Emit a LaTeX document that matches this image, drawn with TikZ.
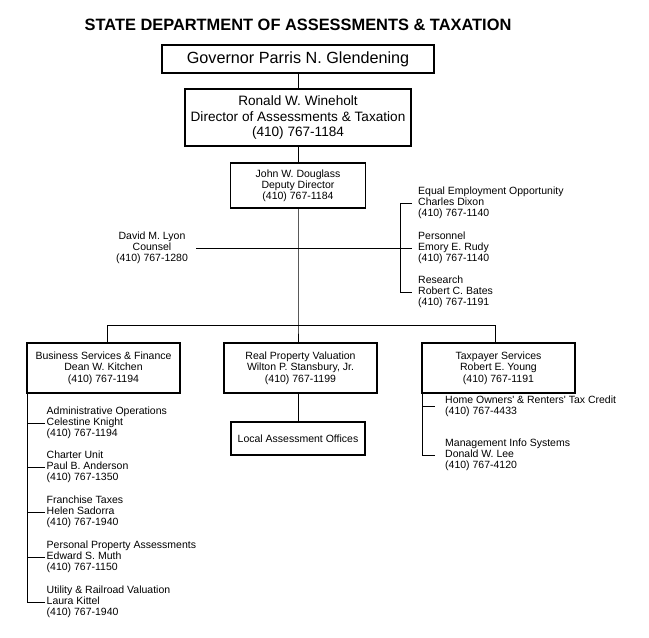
\documentclass[tikz,border=0pt]{standalone}
\usepackage{fontspec}
\setmainfont{Liberation Sans}
\begin{document}
\begin{tikzpicture}[x=1pt,y=-1pt,
    box/.style={draw,line width=1.6pt,inner sep=0pt,outer sep=0pt,align=center,
        font=\fontsize{10.5}{11.5}\selectfont},
    leaf/.style={anchor=west,align=left,inner ysep=0pt,inner xsep=#1,
        font=\fontsize{10.5}{11}\selectfont},
    leaf/.default=1.5pt,
    wire/.style={line width=0.9pt}]
    \useasboundingbox (0,0) rectangle (649,638);
    %\draw[gray!30] (0,0) grid[step=50] (649,638);
    \node[font=\bfseries\fontsize{16.4}{18}\selectfont] (title) at (298,25)
        {STATE DEPARTMENT OF ASSESSMENTS \& TAXATION};
    \node[box,minimum width=272pt,minimum height=28pt,font=\fontsize{16.2}{18}\selectfont]
        (gov) at (298,59) {Governor Parris N. Glendening};
    \node[box,minimum width=226pt,minimum height=57pt,font=\fontsize{13.6}{15.5}\selectfont]
        (dir) at (298,117.5) {Ronald W. Wineholt\\Director of Assessments \& Taxation\\(410) 767-1184};
    \node[box,minimum width=135pt,minimum height=45pt,font=\fontsize{10.5}{11}\selectfont]
        (dep) at (298,185.5) {John W. Douglass\\Deputy Director\\(410) 767-1184};
    \node[align=center,inner xsep=8pt,font=\fontsize{10.5}{11}\selectfont]
        (counsel) at (152,248) {David M. Lyon\\Counsel\\(410) 767-1280};
    \node[leaf=6pt] (eeo) at (412,203) {Equal Employment Opportunity\\Charles Dixon\\(410) 767-1140};
    \node[leaf=6pt] (pers) at (412,248) {Personnel\\Emory E. Rudy\\(410) 767-1140};
    \node[leaf=6pt] (res) at (412,292) {Research\\Robert C. Bates\\(410) 767-1191};
    \foreach \n/\x/\t in {bsf/103.5/{Business Services \& Finance\\Dean W. Kitchen\\(410) 767-1194},
        rpv/300.5/{Real Property Valuation\\Wilton P. Stansbury, Jr.\\(410) 767-1199},
        tps/498.5/{Taxpayer Services\\Robert E. Young\\(410) 767-1191}}
    \node[box,minimum width=153pt,minimum height=50pt] (\n) at (\x,368) {\t};
    \node[box,minimum width=134pt,minimum height=33pt] (lao) at (298,438.5) {Local Assessment Offices};
    \foreach \n/\y/\t in {adm/423/{Administrative Operations\\Celestine Knight\\(410) 767-1194},
        chu/467/{Charter Unit\\Paul B. Anderson\\(410) 767-1350},
        frt/512/{Franchise Taxes\\Helen Sadorra\\(410) 767-1940},
        ppa/557/{Personal Property Assessments\\Edward S. Muth\\(410) 767-1150},
        urv/602/{Utility \& Railroad Valuation\\Laura Kittel\\(410) 767-1940}}
    \node[leaf] (\n) at (45,\y) {\t};
    \node[leaf=10pt] (hor) at (435,406.5) {Home Owners\textquotesingle{} \& Renters\textquotesingle{} Tax Credit\\(410) 767-4433};
    \node[leaf=10pt] (mis) at (435,455) {Management Info Systems\\Donald W. Lee\\(410) 767-4120};
    \coordinate (bar) at (298,325);
    \coordinate (barL) at (107,325);
    \coordinate (barR) at (495,325);
    \coordinate (rspine) at (400,0);
    \begin{scope}[wire]
        \draw (gov) -- (dir);
        \draw (dir) -- (dep);
        \draw (dep.south) -- (bar) -- (bar |- rpv.north);
        \draw (counsel.east) -- (pers.west);
        \draw (eeo.west) -| (rspine |- res.west) -- (res.west);
        \draw (barL |- bsf.north) -- (barL) -- (barR) -- (barR |- tps.north);
        \draw (lao.north) -- (lao.north |- rpv.south);
        \draw (bsf.south west) |- (urv.west);
        \foreach \n in {adm,chu,frt,ppa}
        \draw (bsf.south west |- \n.west) -- (\n.west);
        \draw (tps.south west) |- (mis.west);
        \draw (tps.south west |- hor.west) -- (hor.west);
    \end{scope}
\end{tikzpicture}
\end{document}
